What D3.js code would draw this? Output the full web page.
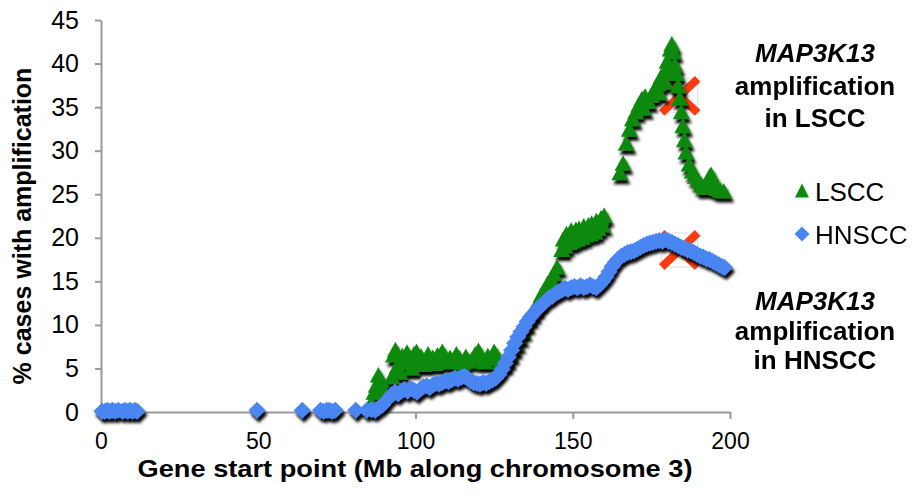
<!DOCTYPE html>
<html>
<head>
<meta charset="utf-8">
<script src="https://cdn.jsdelivr.net/npm/d3@7"></script>
<style>
  body { margin: 0; background: #fff; }
  svg { display: block; font-family: "Liberation Sans", Arial, sans-serif; }
</style>
</head>
<body>
<div id="chart"></div>
<script>
// Ticks
const xTicks = [0, 50, 100, 150, 200];
const yTicks = [0, 5, 10, 15, 20, 25, 30, 35, 40, 45];

// LSCC: [Mb along chromosome 3, % cases with amplification]
const lscc = [
  [86,1.0],[86.8,2.2],[87.5,3.0],[88.2,4.2],[89,3.6],[89.6,2.6],
  [92.5,4.0],[93,6.5],[93.6,7.1],[94.2,5.2],[95,4.5],[95.8,6.4],[96.5,5.6],[97.3,6.8],[98,6.2],[98.8,5.0],
  [99.5,6.6],[100.3,6.9],[101,5.8],[101.8,6.3],[102.5,5.4],[103.3,6.0],[104,6.6],[104.8,5.7],[105.5,6.2],
  [106.3,5.5],[107,6.5],[107.8,6.0],[108.5,6.9],[109.3,6.4],[110,5.7],[111,6.2],[112,5.9],[113,6.6],[114,6.1],
  [115,5.6],[116,6.3],[117,5.8],[118,6.0],[119,6.6],[120,7.0],[121,6.3],[122,5.7],[123,6.4],[124,6.1],[125,6.9],
  [126,6.3],[127,5.8],[128,5.5],[129,6.0],[130,6.6],[131,7.3],[132,7.9],[133,8.6],[134,9.3],[135,10.1],[136,10.8],
  [137,11.3],[138,11.9],[139,12.6],[140,13.4],[141,14.0],[142,14.7],[143,15.2],[144,15.8],[145,16.6],
  [146.5,18.6],[147,19.8],[147.5,19.0],[148,20.4],[149,19.4],[149.5,20.8],[150,19.6],[151,20.9],[151.5,19.8],
  [152,21.0],[153,20.0],[153.5,21.3],[154,20.3],[155,21.4],[155.5,20.4],[156,21.6],[157,20.6],[157.5,21.9],
  [158,21.0],[159,22.2],[159.5,21.4],[160,22.5],
  [165,27.4],[166,28.5],[167,30.8],[168,32.4],[169,33.6],[170,34.4],[171,35.2],[172,35.9],[172.5,34.8],[173,36.2],
  [174,35.6],[175,36.3],[176,37.0],[177,37.6],[177.5,36.6],[178,38.4],[179,38.9],[179.5,37.8],[180,40.2],[180.5,39.0],
  [181,41.6],[181.5,42.2],[182,41.3],[182.5,39.8],[183,38.8],[183.5,37.4],[184,36.0],[184.5,34.4],[185,32.8],
  [185.5,31.2],[186,29.8],[187,28.4],[188,27.6],[189,27.0],[190,26.5],[191,26.0],[192,25.7],[193,26.4],[193.5,27.0],
  [194,27.2],[194.5,26.6],[195,26.0],[196,25.6],[197,25.4],[198,25.3]
];

// HNSCC
const hnscc = [
  [0.3,0.1],[1.2,0.1],[2,0.2],[2.8,0.1],[3.6,0.2],[4.5,0.1],[5.5,0.2],[6.8,0.1],[7.6,0.2],[8.5,0.1],[9.2,0.2],
  [10,0.1],[10.8,0.2],[11.5,0.1],
  [49.6,0.2],[64,0.2],[69.8,0.2],[70.8,0.1],[71.8,0.2],[72.6,0.2],[73.5,0.1],[74.5,0.2],[81,0.2],
  [84.5,0.2],[86,0.3],[87.2,0.2],[88.3,0.5],[89.5,0.8],
  [91.5,1.6],[92.5,2.0],[93.5,2.3],[94.5,2.1],[95.5,2.4],[96.5,2.6],[97.5,2.4],[98.5,2.7],[99.5,2.5],[100.5,2.3],
  [101.5,2.6],[102.5,2.9],[103.5,3.0],[104.5,2.8],[105.5,3.1],[106.5,3.3],[107.5,3.2],[108.5,3.4],[109.5,3.6],
  [110.5,3.5],[111.5,3.7],[112.5,3.9],[113.5,3.8],[114.5,4.0],[115.5,4.1],[116.5,3.9],[117.5,3.6],[118.5,3.4],
  [119.5,3.3],[120.5,3.2],[121.5,3.4],[122.5,3.3],[123.5,3.5],[124.5,3.7],[125.5,3.9],[126.5,4.3],[127.5,4.9],
  [128.5,5.6],[129.5,6.3],[130.5,7.1],[131.5,7.9],[132.5,8.6],[133.5,9.2],[134.5,9.8],[135.5,10.4],[136.5,10.9],
  [137.5,11.3],[138.5,11.7],[139.5,12.1],[140.5,12.4],[141.5,12.8],[142.5,13.1],[143.5,13.3],[144.5,13.6],
  [145.5,13.8],[146.5,14.0],[147.5,14.2],[148.5,14.1],[149.5,14.3],[150.5,14.4],[151.5,14.3],[152.5,14.5],
  [153.5,14.3],[154.5,14.4],[155.5,14.6],[156.5,14.4],[157.5,14.3],[158.5,14.6],[159.5,15.0],[160.5,15.5],
  [161.5,16.1],[162.5,16.7],[163.5,17.2],[164.5,17.6],[165.5,17.9],[166.5,18.1],[167.5,18.3],[168.5,18.4],
  [169.5,18.5],[170.5,18.7],[171.5,18.9],[172.5,19.1],[173.5,19.3],[174.5,19.4],[175.5,19.5],[176.5,19.6],
  [177.5,19.7],[178.5,19.6],[179.5,19.8],[180.5,19.6],[181.5,19.5],[182.5,19.3],[183.5,19.1],[184.5,18.9],
  [185.5,18.8],[186.5,18.6],[187.5,18.5],[188.5,18.3],[189.5,18.1],[190.5,17.9],[191.5,17.8],[192.5,17.6],
  [193.5,17.5],[194.5,17.3],[195.5,17.1],[196.5,16.9],[197.5,16.7],[198.3,16.6]
];

// MAP3K13 location marks
const marks = [
  { series: "LSCC", mb: 184, pct: 36.3 },
  { series: "HNSCC", mb: 184, pct: 18.6 }
];

const width = 917, height = 503;
const green = "#0b8a0b", blue = "#4a86f2", red = "#ff3a10", axisGray = "#999";

const x = d3.scaleLinear().domain([0, 200]).range([101, 730]);
const y = d3.scaleLinear().domain([0, 45]).range([412, 20]);

const svg = d3.select("#chart").append("svg")
  .attr("width", width).attr("height", height);

// drop shadow (plus a touch of softening) used by the marker groups
const defs = svg.append("defs");
const f = defs.append("filter").attr("id", "shadow")
  .attr("x", "-10%").attr("y", "-10%").attr("width", "120%").attr("height", "130%");
f.append("feGaussianBlur").attr("in", "SourceAlpha").attr("stdDeviation", 1.8).attr("result", "b");
f.append("feOffset").attr("in", "b").attr("dx", 2).attr("dy", 4).attr("result", "o");
f.append("feComponentTransfer").attr("in", "o").attr("result", "s")
  .append("feFuncA").attr("type", "linear").attr("slope", 1);
f.append("feGaussianBlur").attr("in", "SourceGraphic").attr("stdDeviation", 0.5).attr("result", "g");
const fm = f.append("feMerge");
fm.append("feMergeNode").attr("in", "s");
fm.append("feMergeNode").attr("in", "g");

// axes
const xAxis = svg.append("g").attr("transform", "translate(0,412)")
  .call(d3.axisBottom(x).tickValues(xTicks).tickSize(7).tickPadding(14).tickSizeOuter(0));
const yAxis = svg.append("g").attr("transform", "translate(101,0)")
  .call(d3.axisLeft(y).tickValues(yTicks).tickSize(6).tickPadding(16).tickSizeOuter(0));
[xAxis, yAxis].forEach(a => {
  a.select(".domain").attr("stroke", axisGray).attr("stroke-width", 2);
  a.selectAll(".tick line").attr("stroke", axisGray).attr("stroke-width", 2);
  a.selectAll(".tick text").attr("fill", "#000")
    .style("font-family", "'Liberation Sans', Arial, sans-serif");
});
xAxis.selectAll(".tick text").attr("dy", "0.71em").style("font-size", "23px");
yAxis.selectAll(".tick text").style("font-size", "25px");

// axis titles
svg.append("text")
  .attr("x", 415).attr("y", 477).attr("text-anchor", "middle")
  .style("font-size", "24px").style("font-weight", "bold")
  .attr("textLength", 555).attr("lengthAdjust", "spacingAndGlyphs")
  .text("Gene start point (Mb along chromosome 3)");
svg.append("text")
  .attr("transform", "translate(31,226) rotate(-90)").attr("text-anchor", "middle")
  .style("font-size", "25px").style("font-weight", "bold")
  .text("% cases with amplification");

// X marks (drawn under the markers)
const xm = svg.append("g");
marks.forEach(m => {
  const cx = x(m.mb), cy = y(m.pct), hw = 18, hh = 17;
  xm.append("rect").attr("x", cx - hw).attr("y", cy - hh).attr("width", 2 * hw).attr("height", 2 * hh)
    .attr("fill", "none").attr("stroke", "#ddd").attr("stroke-width", 1);
  xm.append("line").attr("x1", cx - hw).attr("y1", cy - hh).attr("x2", cx + hw).attr("y2", cy + hh)
    .attr("stroke", red).attr("stroke-width", 8);
  xm.append("line").attr("x1", cx + hw).attr("y1", cy - hh).attr("x2", cx - hw).attr("y2", cy + hh)
    .attr("stroke", red).attr("stroke-width", 8);
});

const triPath = "M0,-8.5L8.5,7L-8.5,7Z";
const diaPath = "M0,-8.5L8.5,0L0,8.5L-8.5,0Z";

svg.append("g").attr("filter", "url(#shadow)")
  .selectAll("path").data(lscc).join("path")
  .attr("d", triPath)
  .attr("transform", d => `translate(${x(d[0])},${y(d[1])})`)
  .attr("fill", green);

svg.append("g").attr("filter", "url(#shadow)")
  .selectAll("path").data(hnscc).join("path")
  .attr("d", diaPath)
  .attr("transform", d => `translate(${x(d[0])},${y(d[1])})`)
  .attr("fill", blue);

// legend
const legendTri = "M0,-7.5L7,6.5L-7,6.5Z";
const legendDia = "M0,-7.5L7.5,0L0,7.5L-7.5,0Z";
const legend = [
  { label: "LSCC", path: legendTri, color: green, y: 191 },
  { label: "HNSCC", path: legendDia, color: blue, y: 234 }
];
legend.forEach(l => {
  svg.append("path").attr("d", l.path).attr("transform", `translate(802,${l.y})`).attr("fill", l.color);
  svg.append("text").attr("x", 815).attr("y", l.y + 10)
    .style("font-size", "26px").text(l.label);
});

// annotations
const notes = [
  { lines: ["MAP3K13", "amplification", "in LSCC"], ys: [62, 95, 127] },
  { lines: ["MAP3K13", "amplification", "in HNSCC"], ys: [310, 340, 369] }
];
notes.forEach(n => {
  n.lines.forEach((t, i) => {
    svg.append("text").attr("x", 815).attr("y", n.ys[i]).attr("text-anchor", "middle")
      .style("font-size", "26px").style("font-weight", "bold")
      .style("font-style", i === 0 ? "italic" : "normal")
      .text(t);
  });
});
</script>
</body>
</html>
